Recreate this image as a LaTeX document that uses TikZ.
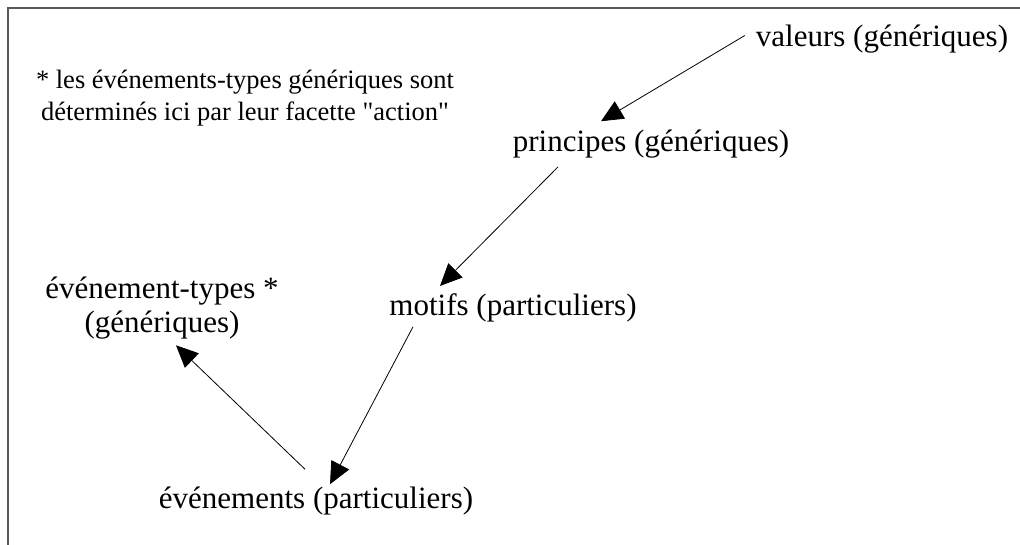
\documentclass[tikz,border=0pt]{standalone}
\usepackage{fontspec}
\setmainfont{Liberation Serif}
\usetikzlibrary{arrows.meta,calc}

\begin{document}
\begin{tikzpicture}[x=1pt,y=-1pt,
      lbl/.style={inner sep=0pt,anchor=base,font=\fontsize{31}{33}\selectfont},
      note/.style={inner sep=0pt,align=center,font=\fontsize{26.5}{31.5}\selectfont},
      arr/.style={-{Triangle[length=22pt,width=20pt]},line width=0.8pt}]
    \useasboundingbox (0,0) rectangle (1020,545);
    \draw[line width=1.3pt,draw=black!65] (8,545) -- (8,8) -- (1020,8);
    \node[note] (rem) at (245,98) {* les événements-types génériques sont\\ déterminés ici par leur facette \textquotedbl action\textquotedbl};
    \node[lbl] (val) at (882,47)  {valeurs (génériques)};
    \node[lbl] (pri) at (651,152) {principes (génériques)};
    \node[lbl] (mot) at (513,316) {motifs (particuliers)};
    \node[lbl,align=center,anchor=center,font=\fontsize{31}{34}\selectfont] (typ) at (162,308) {événement-types *\\ (génériques)};
    \node[lbl] (eve) at (316,508) {événements (particuliers)};
    \draw[arr] ($(val.west)+(-11,-4)$) -- ($(pri.north)+(-50,-9)$);
    \draw[arr] ($(pri.south)+(-93,8)$) -- ($(mot.north)+(-73,-8)$);
    \draw[arr] ($(mot.south)+(-100,4)$) -- ($(eve.north)+(14,-2)$);
    \draw[arr] ($(eve.north)+(-11,-17)$) -- ($(typ.south)+(14,6)$);
  \end{tikzpicture}
\end{document}
